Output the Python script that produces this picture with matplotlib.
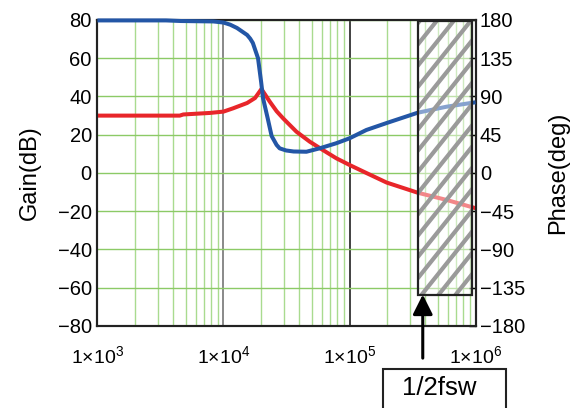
import matplotlib
matplotlib.use("Agg")
import numpy as np
import matplotlib.pyplot as plt
from matplotlib.patches import Rectangle
from matplotlib.collections import LineCollection
from matplotlib.ticker import LogLocator, NullFormatter

plt.rcParams['font.family'] = ['Liberation Sans', 'DejaVu Sans']
plt.rcParams['mathtext.fontset'] = 'custom'
plt.rcParams['mathtext.rm'] = 'Liberation Sans'
plt.rcParams['mathtext.it'] = 'Liberation Sans:italic'

# gain curve (left axis, dB) - red
red_freq = [1.0e3, 4.5e3, 4.8e3, 7.8e3, 1.0e4, 1.19e4, 1.54e4, 1.78e4, 2.0e4, 2.14e4,
            2.33e4, 2.64e4, 2.97e4, 3.79e4, 4.83e4, 6.15e4, 7.85e4, 1.0e5, 1.36e5,
            1.97e5, 3.47e5, 5.89e5, 1.0e6]
red_gain = [30, 30, 30.6, 31.4, 32.1, 33.8, 36.6, 39.2, 43.9, 41, 37.3, 32.3, 28.6,
            21.6, 16.4, 12.0, 7.7, 4.2, 0.0, -5, -10.3, -14.1, -18.4]

# phase curve (right axis, deg) - blue
blue_freq = [1.0e3, 3.5e3, 4.6e3, 8.3e3, 1.0e4, 1.13e4, 1.28e4, 1.54e4, 1.63e4, 1.71e4,
             1.88e4, 1.99e4, 2.06e4, 2.24e4, 2.41e4, 2.64e4, 2.79e4, 3.14e4, 3.6e4,
             4.55e4, 5.79e4, 7.85e4, 1.0e5, 1.36e5, 1.97e5, 3.47e5, 5.89e5, 1.0e6]
blue_phase = [179.5, 179.5, 178.8, 178.3, 177, 174.5, 170.6, 162.4, 158, 153, 135, 107,
              88, 64.7, 43.5, 33, 29, 26.5, 25.3, 25, 29, 35, 40.8, 50.6, 58.8, 70.9,
              78, 83.2]

gain_ticks = [-80, -60, -40, -20, 0, 20, 40, 60, 80]
phase_ticks = [-180, -135, -90, -45, 0, 45, 90, 135, 180]
freq_ticks = [1e3, 1e4, 1e5, 1e6]
freq_labels = [r'$\mathregular{1{\times}10^{3}}$', r'$\mathregular{1{\times}10^{4}}$',
               r'$\mathregular{1{\times}10^{5}}$', r'$\mathregular{1{\times}10^{6}}$']

# shaded region above half the switching frequency
shade_f0, shade_f1 = 3.5e5, 9.4e5
shade_p0, shade_p1 = -143, 179
arrow_f = 3.81e5
marker_text = '1/2fsw'

green = '#8cca66'
light_green = '#a9db8f'

FIG_W, FIG_H = 5.73, 4.08
AX_BOX = [0.170, 0.201, 0.660, 0.750]

fig = plt.figure(figsize=(FIG_W, FIG_H), dpi=100)
ax = fig.add_axes(AX_BOX)
ax2 = ax.twinx()

ax.plot(red_freq, red_gain, color='#e8262a', lw=2.9, zorder=3, clip_on=False,
        solid_capstyle='butt')
ax2.plot(blue_freq, blue_phase, color='#2356a6', lw=2.9, zorder=3, clip_on=False,
         solid_capstyle='butt')

ax.set_xscale('log')
ax.set_xlim(1e3, 1e6)
ax.set_ylim(-80, 80)
ax2.set_ylim(-180, 180)

# grid
ax.xaxis.set_minor_locator(LogLocator(base=10, subs=range(2, 10)))
ax.xaxis.set_minor_formatter(NullFormatter())
ax.grid(which='minor', axis='x', color=light_green, lw=1.0, zorder=0)
ax.grid(which='major', axis='y', color=green, lw=1.0, zorder=0)
ax.axvline(1e4, color='#808080', lw=1.3, zorder=1)
ax.axvline(1e5, color='#333333', lw=1.3, zorder=1)

ax.set_xticks(freq_ticks)
ax.set_xticklabels(freq_labels)
ax.set_yticks(gain_ticks)
ax.set_yticklabels([str(v).replace('-', '\u2212') for v in gain_ticks])
ax2.set_yticks(phase_ticks)
ax2.set_yticklabels([str(v).replace('-', '\u2212') for v in phase_ticks])

ax.tick_params(axis='x', which='both', length=0, labelsize=14, pad=14)
ax.tick_params(axis='y', length=0, labelsize=14.5, pad=4)
ax2.tick_params(axis='y', direction='in', length=5, width=1, labelsize=14.5, pad=3)

for a in (ax, ax2):
    for s in a.spines.values():
        s.set_linewidth(1.5)
        s.set_color('#222222')

ax.set_ylabel('Gain(dB)', fontsize=17, labelpad=12)
ax2.set_ylabel('Phase(deg)', fontsize=17, rotation=90, labelpad=16)

# hatched region: white veil, diagonal gray stripes, black frame
shade = Rectangle((shade_f0, shade_p0), shade_f1 - shade_f0, shade_p1 - shade_p0,
                  facecolor=(1, 1, 1, 0.45), lw=0, zorder=5)
ax2.add_patch(shade)

ax_w = AX_BOX[2] * FIG_W * 100   # axes size in pixels
ax_h = AX_BOX[3] * FIG_H * 100
step = 17.0       # horizontal stripe spacing, px
slope = 1.25      # stripe rise per px
run = ax_h / slope
segs = []
for c in np.arange(-run, ax_w + step, step):
    segs.append([(c / ax_w, 0.0), ((c + run) / ax_w, 1.0)])
stripes = LineCollection(segs, colors='#9a9a9a', linewidths=3.0,
                         transform=ax2.transAxes, zorder=5.5)
ax2.add_collection(stripes)
stripes.set_clip_path(shade)

ax2.add_patch(Rectangle((shade_f0, shade_p0), shade_f1 - shade_f0, shade_p1 - shade_p0,
                        facecolor='none', edgecolor='#222222', lw=1.6, zorder=6))

# arrow and label box
ax2.annotate('', xy=(arrow_f, shade_p0), xycoords='data',
             xytext=(arrow_f, -0.105), textcoords=ax2.get_xaxis_transform(),
             arrowprops=dict(arrowstyle='-|>', color='black', lw=2.2,
                             mutation_scale=30, shrinkA=0, shrinkB=0),
             annotation_clip=False, zorder=7)

fig.patches.append(Rectangle((0.668, -0.1), 0.2147, 0.1956, transform=fig.transFigure,
                             facecolor='white', edgecolor='#222222', lw=1.5))
fig.text(0.767, 0.050, marker_text, fontsize=18.5, ha='center', va='center')

fig.savefig('out.png', dpi=100)
